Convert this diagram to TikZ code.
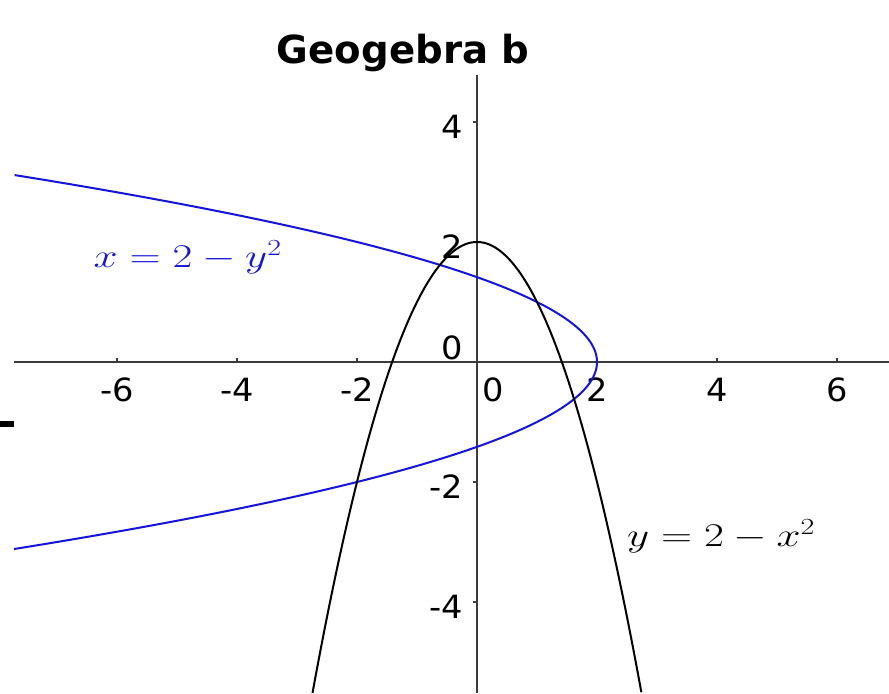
\documentclass[tikz,border=0pt]{standalone}
\usepackage{fontspec}
\usepackage{graphicx}
\newfontfamily\tickfont{DejaVu Sans}
\newfontfamily\handfont{DejaVu Sans}
\definecolor{ggblue}{RGB}{20,20,220}
\definecolor{axisgray}{RGB}{60,60,60}
\newcommand{\wide}[2]{\scalebox{#1}[1]{#2}}
\tikzset{
  axisline/.style={draw=axisgray, line width=0.9pt},
  tickmark/.style={draw=axisgray, line width=0.9pt},
  ticklab/.style={inner sep=0pt, font=\tickfont\fontsize{24}{24}\selectfont},
  eqlab/.style={inner sep=0pt, anchor=base, font=\fontsize{24}{24}\selectfont},
  bluecurve/.style={draw=ggblue, line width=1.5pt},
  blackcurve/.style={draw=black, line width=1.5pt},
  handlab/.style={inner sep=0pt, anchor=base, font=\handfont\bfseries\fontsize{29}{29}\selectfont}
}
\begin{document}
\begin{tikzpicture}[x=45pt,y=45pt]
\useasboundingbox[fill=white] (-7.95,-5.5167) rectangle (6.8667,6.0333);
% axes
\coordinate (xl) at (-7.717,0);
\coordinate (xr) at (6.8667,0);
\coordinate (yt) at (0,4.783);
\coordinate (yb) at (0,-5.5167);
\draw[axisline] (xl) -- (xr);
\draw[axisline] (yb) -- (yt);
% ticks
\foreach \v in {-6,-4,-2,2,4,6} {
  \draw[tickmark] (\v,0) -- (\v,0.07);
}
\foreach \v in {-4,-2,2,4} {
  \draw[tickmark] (0,\v) -- (-0.07,\v);
}
% tick labels
\node[ticklab] (xm6) at (-6,-0.467) {\wide{1.05}{-6}};
\node[ticklab] (xm4) at (-4,-0.467) {\wide{1.05}{-4}};
\node[ticklab] (xm2) at (-2,-0.467) {\wide{1.05}{-2}};
\node[ticklab] (x0) at (0.27,-0.467) {\wide{1.05}{0}};
\node[ticklab] (x2) at (2,-0.467) {\wide{1.05}{2}};
\node[ticklab] (x4) at (4,-0.467) {\wide{1.05}{4}};
\node[ticklab] (x6) at (6,-0.467) {\wide{1.05}{6}};
\node[ticklab, anchor=east] (y4) at (-0.233,3.917) {\wide{1.05}{4}};
\node[ticklab, anchor=east] (y2) at (-0.233,1.917) {\wide{1.05}{2}};
\node[ticklab, anchor=east] (y0) at (-0.233,0.242) {\wide{1.05}{0}};
\node[ticklab, anchor=east] (ym2) at (-0.233,-2.083) {\wide{1.05}{-2}};
\node[ticklab, anchor=east] (ym4) at (-0.233,-4.083) {\wide{1.05}{-4}};
% curves
\draw[bluecurve] plot[domain=-3.117:3.117, samples=240, variable=\t] ({2-\t*\t},{\t});
\draw[blackcurve] plot[domain=-2.7417:2.7417, samples=240] (\x,{2-\x*\x});
% equation labels
\node[eqlab, text=ggblue] (eqx) at (-4.82,1.567) {\wide{1.3}{$x = 2 - y^2$}};
\node[eqlab, text=black] (eqy) at (4.07,-3.07) {\wide{1.3}{$y = 2 - x^2$}};
% handwritten title
\node[handlab] (title) at (-1.23,4.97) {Geogebra b};
% dash at left edge
\fill[black] (-7.95,-0.983) rectangle (-7.717,-1.083);
\end{tikzpicture}
\end{document}
